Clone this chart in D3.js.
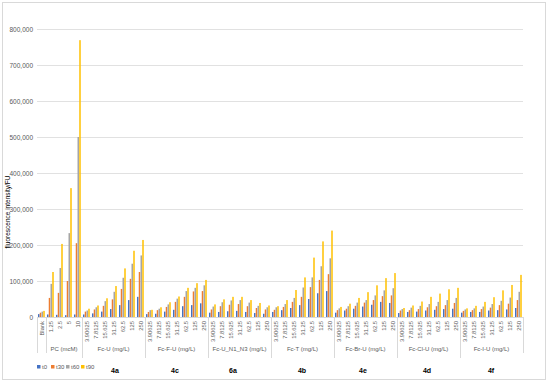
<!DOCTYPE html>
<html>
<head>
<meta charset="utf-8">
<script src="https://d3js.org/d3.v7.min.js"></script>
<style>
    body { margin: 0; background: #fff; }
    text { font-family: "Liberation Sans", Arial, sans-serif; }
</style>
</head>
<body>
<div id="chart"></div>
<script>
// categories (level 1 labels) and their groups (level 2 labels)
var conc = ["3.90625", "7.8125", "15.625", "31.25", "62.5", "125", "250"];
var groups = [
    { name: "", cats: ["Blank"] },
    { name: "PC (mcM)", cats: ["1.25", "2.5", "5", "10"] },
    { name: "Fc-U (mg/L)", cats: conc },
    { name: "Fc-F-U (mg/L)", cats: conc },
    { name: "Fc-U_N1_N3 (mg/L)", cats: conc },
    { name: "Fc-T (mg/L)", cats: conc },
    { name: "Fc-Br-U (mg/L)", cats: conc },
    { name: "Fc-Cl-U (mg/L)", cats: conc },
    { name: "Fc-I-U (mg/L)", cats: conc }
];
var compoundLabels = ["4a", "4c", "6a", "4b", "4e", "4d", "4f"];
var compoundX = [115, 175, 233, 302, 363, 427, 491];

var seriesNames = ["t0", "t30", "t60", "t90"];
var colors = ["#4472C4", "#ED7D31", "#A5A5A5", "#FFC000"];

// values in thousands of FU
var t0 = [8, 7, 6, 5, 7,
    7, 10, 15, 22, 33, 47, 56,
    8, 9, 15, 20, 30, 33, 38,
    12, 14, 16, 17, 14, 11, 9,
    14, 19, 25, 33, 50, 66, 72,
    12, 18, 23, 29, 34, 42, 39,
    11, 14, 15, 18, 20, 22, 23,
    12, 14, 14, 18, 19, 21, 25];
var t30 = [12, 53, 67, 100, 205,
    15, 21, 31, 49, 78, 106, 125,
    14, 19, 28, 42, 56, 71, 72,
    21, 30, 34, 36, 30, 25, 21,
    20, 28, 42, 56, 83, 103, 119,
    19, 23, 31, 40, 47, 58, 60,
    18, 19, 22, 27, 30, 33, 39,
    17, 19, 22, 26, 33, 37, 47];
var t60 = [15, 92, 136, 233, 500,
    18, 27, 44, 70, 109, 148, 171,
    19, 23, 35, 51, 72, 81, 88,
    29, 41, 46, 47, 40, 31, 27,
    27, 36, 53, 82, 110, 141, 163,
    24, 30, 40, 47, 60, 74, 80,
    22, 26, 31, 36, 42, 47, 53,
    21, 24, 29, 36, 45, 54, 70];
var t90 = [17, 125, 203, 358, 769,
    23, 32, 52, 86, 135, 184, 214,
    20, 27, 41, 57, 81, 94, 103,
    35, 49, 56, 56, 47, 39, 32,
    30, 47, 75, 110, 165, 210, 240,
    28, 37, 53, 69, 88, 108, 122,
    25, 32, 43, 56, 65, 77, 81,
    24, 31, 42, 55, 74, 89, 117];
var yTicks = [0, 100000, 200000, 300000, 400000, 500000, 600000, 700000, 800000];

var w = 550, h = 385,
    padLeft = 37, padRight = 523,
    padTop = 29, axisY = 317;

// flatten categories
var cats = [];
groups.forEach(function (g, gi) {
    g.cats.forEach(function (c) {
        cats.push({ id: cats.length, label: c, group: gi });
    });
});

var data = cats.map(function (c, i) {
    return { id: c.id, label: c.label, values: [t0[i], t30[i], t60[i], t90[i]].map(function (v) { return v * 1000; }) };
});

var svg = d3.select("#chart").append("svg")
    .attr("width", w)
    .attr("height", h);

svg.append("rect")
    .attr("x", 2.5).attr("y", 2.5)
    .attr("width", 543).attr("height", 377)
    .attr("fill", "#fff")
    .attr("stroke", "#d9d9d9");

var x = d3.scaleBand().domain(cats.map(function (c) { return c.id; })).range([padLeft, padRight]).paddingInner(0.22).paddingOuter(0.11);
var x1 = d3.scaleBand().domain(d3.range(4)).range([0, x.bandwidth()]);
var y = d3.scaleLinear().domain([0, 800000]).range([axisY, padTop]);

// gridlines
svg.append("g").selectAll("line")
    .data(yTicks)
    .enter().append("line")
    .attr("x1", padLeft).attr("x2", padRight)
    .attr("y1", function (d) { return y(d) + 0.5; })
    .attr("y2", function (d) { return y(d) + 0.5; })
    .attr("stroke", "#d9d9d9")
    .attr("stroke-width", 0.8);

var yAxis = d3.axisLeft(y).tickValues(yTicks).tickSize(0).tickPadding(4).tickFormat(d3.format(","));
svg.append("g")
    .attr("transform", "translate(" + padLeft + ",0)")
    .call(yAxis)
    .call(function (g) { g.select(".domain").remove(); })
    .selectAll("text")
    .attr("fill", "#595959")
    .style("font-size", "6.5px");

// bars
svg.append("g").selectAll("g")
    .data(data)
    .enter().append("g")
    .attr("transform", function (d) { return "translate(" + x(d.id) + ",0)"; })
    .selectAll("rect")
    .data(function (d) { return d.values; })
    .enter().append("rect")
    .attr("x", function (d, i) { return x1(i); })
    .attr("width", x1.bandwidth() * 0.85)
    .attr("y", function (d) { return y(d); })
    .attr("height", function (d) { return axisY - y(d); })
    .attr("fill", function (d, i) { return colors[i]; });

// category axis
var step = x.step();
svg.append("line")
    .attr("x1", padLeft).attr("x2", padRight)
    .attr("y1", axisY + 0.5).attr("y2", axisY + 0.5)
    .attr("stroke", "#d9d9d9");

svg.append("g").selectAll("text")
    .data(cats)
    .enter().append("text")
    .attr("transform", function (d) { return "translate(" + (x(d.id) + x.bandwidth() / 2 + 2) + "," + (axisY + 4) + ") rotate(-90)"; })
    .attr("text-anchor", "end")
    .attr("fill", "#595959")
    .style("font-size", "5.8px")
    .text(function (d) { return d.label; });

// group separators and names
var start = 0;
var bounds = [];
groups.forEach(function (g) {
    bounds.push({ name: g.name, from: start, to: start + g.cats.length - 1 });
    start += g.cats.length;
});
var edges = [0].concat(bounds.map(function (b) { return b.to + 1; }));

svg.append("g").selectAll("line")
    .data(edges)
    .enter().append("line")
    .attr("x1", function (d) { return padLeft + d * step + 0.5; })
    .attr("x2", function (d) { return padLeft + d * step + 0.5; })
    .attr("y1", axisY)
    .attr("y2", function (d, i) { return (i === 0 || i === 1 || i === edges.length - 1) ? 353 : 358; })
    .attr("stroke", "#d9d9d9");

svg.append("g").selectAll("text")
    .data(bounds)
    .enter().append("text")
    .attr("x", function (d) { return padLeft + (d.from + d.to + 1) / 2 * step; })
    .attr("y", 351)
    .attr("text-anchor", "middle")
    .attr("fill", "#595959")
    .style("font-size", "6px")
    .text(function (d) { return d.name; });

// compound labels
svg.append("g").selectAll("text")
    .data(compoundLabels)
    .enter().append("text")
    .attr("x", function (d, i) { return compoundX[i]; })
    .attr("y", 373)
    .attr("text-anchor", "middle")
    .attr("fill", "#000")
    .style("font-size", "7px")
    .style("font-weight", "bold")
    .text(function (d) { return d; });

// y title
svg.append("text")
    .attr("transform", "translate(10,212) rotate(-90)")
    .attr("text-anchor", "middle")
    .attr("fill", "#000")
    .style("font-size", "6.5px")
    .text("fluorescence intensity/FU");

// legend
var legendX = [37, 51, 66, 81];
var legend = svg.append("g").selectAll("g")
    .data(seriesNames)
    .enter().append("g")
    .attr("transform", function (d, i) { return "translate(" + legendX[i] + ",365)"; });
legend.append("rect")
    .attr("width", 3.5).attr("height", 3.5)
    .attr("fill", function (d, i) { return colors[i]; });
legend.append("text")
    .attr("x", 5).attr("y", 3.8)
    .attr("fill", "#595959")
    .style("font-size", "6px")
    .text(function (d) { return d; });
</script>
</body>
</html>
